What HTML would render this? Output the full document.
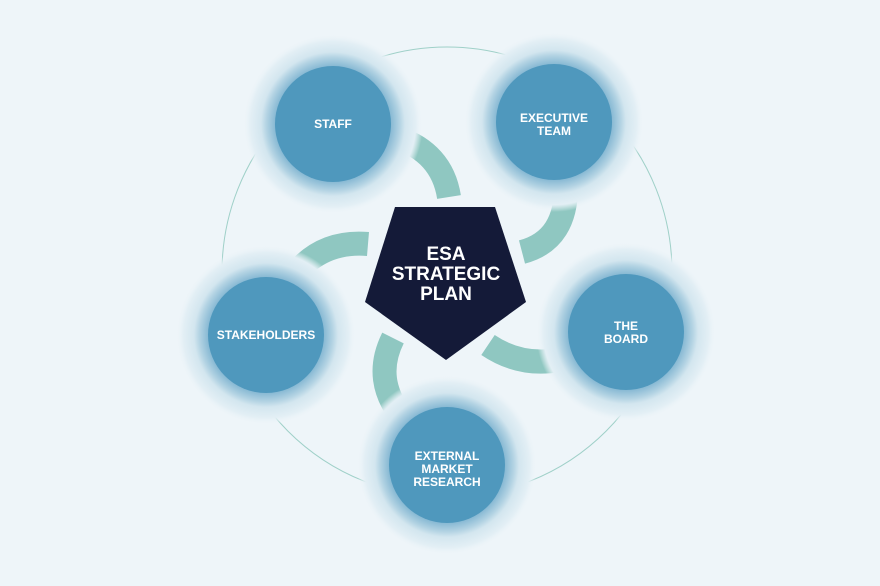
<!DOCTYPE html>
<html><head><style>
html,body{margin:0;padding:0;background:#eef5f9;}
svg{display:block}
text{font-family:"Liberation Sans",sans-serif;font-weight:bold;fill:#fff;text-anchor:middle}
</style></head><body>
<svg width="880" height="586" viewBox="0 0 880 586">
<defs>
<radialGradient id="g">
<stop offset="0" stop-color="#86b8d3"/>
<stop offset="0.64" stop-color="#86b8d3"/>
<stop offset="0.74" stop-color="#b3d3e3"/>
<stop offset="0.8" stop-color="#d3e6ef"/>
<stop offset="0.92" stop-color="#e3eff5"/>
<stop offset="1" stop-color="#eef5f9" stop-opacity="0"/>
</radialGradient>
</defs>
<rect width="880" height="586" fill="#eef5f9"/>
<circle cx="447" cy="272" r="225" fill="none" stroke="#9fd0c8" stroke-width="1"/>
<g fill="none" stroke="#8fc7c1" stroke-width="24">
<path d="M395 137 Q442 152 449 197"/>
<path d="M566 182 Q568 240 522 252"/>
<path d="M578 355 Q528 372 488 345"/>
<path d="M403 418 Q372 380 393 338"/>
<path d="M292 278 Q320 240 368 244"/>
</g>
<g>
<circle cx="333" cy="124" r="90" fill="url(#g)"/>
<circle cx="554" cy="122" r="90" fill="url(#g)"/>
<circle cx="626" cy="332" r="90" fill="url(#g)"/>
<circle cx="447" cy="465" r="90" fill="url(#g)"/>
<circle cx="266" cy="335" r="90" fill="url(#g)"/>
</g>
<g fill="#4f98bd">
<circle cx="333" cy="124" r="58"/>
<circle cx="554" cy="122" r="58"/>
<circle cx="626" cy="332" r="58"/>
<circle cx="447" cy="465" r="58"/>
<circle cx="266" cy="335" r="58"/>
</g>
<polygon points="395,207 495,207 526,302 446,360 365,302" fill="#141a38"/>
<g font-size="12">
<text x="333" y="128">STAFF</text>
<text x="554" y="122">EXECUTIVE</text>
<text x="554" y="135">TEAM</text>
<text x="626" y="330">THE</text>
<text x="626" y="343">BOARD</text>
<text x="447" y="460">EXTERNAL</text>
<text x="447" y="473">MARKET</text>
<text x="447" y="486">RESEARCH</text>
<text x="266" y="339">STAKEHOLDERS</text>
</g>
<g font-size="19">
<text x="446" y="260">ESA</text>
<text x="446" y="280">STRATEGIC</text>
<text x="446" y="300">PLAN</text>
</g>
</svg>
</body></html>
